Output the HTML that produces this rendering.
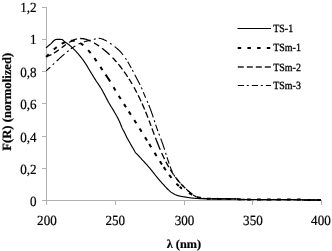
<!DOCTYPE html><html><head><meta charset="utf-8"><style>html,body{margin:0;padding:0;background:#fff;}body{filter:grayscale(1) blur(0.3px);}svg{display:block;}text{font-family:"Liberation Serif",serif;fill:#000;text-rendering:geometricPrecision;}.t{stroke:#000;stroke-width:0.2px;}.l{stroke:#000;stroke-width:0.3px;}</style></head><body>
<svg width="332" height="251" viewBox="0 0 332 251">
<rect width="332" height="251" fill="#fff"/>
<path d="M46.5 7 V200.5" stroke="#b0b0b0" stroke-width="1" fill="none"/>
<path d="M42 7.5 H46.5" stroke="#b0b0b0" stroke-width="1"/>
<path d="M42 39.5 H46.5" stroke="#b0b0b0" stroke-width="1"/>
<path d="M42 71.5 H46.5" stroke="#b0b0b0" stroke-width="1"/>
<path d="M42 103.5 H46.5" stroke="#b0b0b0" stroke-width="1"/>
<path d="M42 136.5 H46.5" stroke="#b0b0b0" stroke-width="1"/>
<path d="M42 168.5 H46.5" stroke="#b0b0b0" stroke-width="1"/>
<path d="M42 200.5 H46.5" stroke="#b0b0b0" stroke-width="1"/>
<path d="M42 200.5 H322" stroke="#b0b0b0" stroke-width="1"/>
<path d="M46.5 200 V205" stroke="#b0b0b0" stroke-width="1"/>
<path d="M115.5 200 V205" stroke="#b0b0b0" stroke-width="1"/>
<path d="M184.5 200 V205" stroke="#b0b0b0" stroke-width="1"/>
<path d="M252.5 200 V205" stroke="#b0b0b0" stroke-width="1"/>
<path d="M321.5 200 V205" stroke="#b0b0b0" stroke-width="1"/>
<text transform="translate(36.6 12.4) scale(0.935 1)" class="t" font-size="14" text-anchor="end">1,2</text>
<text transform="translate(36.6 44.4) scale(0.935 1)" class="t" font-size="14" text-anchor="end">1</text>
<text transform="translate(36.6 76.8) scale(0.935 1)" class="t" font-size="14" text-anchor="end">0,8</text>
<text transform="translate(36.6 108.8) scale(0.935 1)" class="t" font-size="14" text-anchor="end">0,6</text>
<text transform="translate(36.6 141.8) scale(0.935 1)" class="t" font-size="14" text-anchor="end">0,4</text>
<text transform="translate(36.6 173.8) scale(0.935 1)" class="t" font-size="14" text-anchor="end">0,2</text>
<text transform="translate(36.6 205.6) scale(0.935 1)" class="t" font-size="14" text-anchor="end">0</text>
<text transform="translate(46.9 224.8) scale(0.935 1)" class="t" font-size="14" text-anchor="middle">200</text>
<text transform="translate(115.3 224.8) scale(0.935 1)" class="t" font-size="14" text-anchor="middle">250</text>
<text transform="translate(184.6 224.8) scale(0.935 1)" class="t" font-size="14" text-anchor="middle">300</text>
<text transform="translate(252.9 224.8) scale(0.935 1)" class="t" font-size="14" text-anchor="middle">350</text>
<text transform="translate(320.9 224.8) scale(0.935 1)" class="t" font-size="14" text-anchor="middle">400</text>
<text x="183.9" y="247.7" font-size="12.25" font-weight="bold" class="t" text-anchor="middle">&#955; (nm)</text>
<text transform="translate(11.2 101.8) rotate(-90)" font-size="12.64" font-weight="bold" class="t" text-anchor="middle">F(R) (normolized)</text>
<path d="M46.00 47.90 L46.50 47.46 L47.00 47.02 L47.50 46.59 L48.00 46.15 L48.50 45.72 L49.00 45.29 L49.50 44.86 L50.00 44.44 L50.50 44.01 L51.00 43.56 L51.50 43.06 L52.00 42.54 L52.50 42.01 L53.00 41.49 L53.50 41.00 L54.00 40.55 L54.50 40.16 L55.00 39.85 L55.50 39.62 L56.00 39.50 L56.50 39.44 L57.00 39.39 L57.50 39.35 L58.00 39.32 L58.50 39.30 L59.00 39.30 L59.50 39.31 L60.00 39.33 L60.50 39.37 L61.00 39.41 L61.50 39.46 L62.00 39.54 L62.50 39.80 L63.00 40.20 L63.50 40.68 L64.00 41.17 L64.50 41.60 L65.00 41.96 L65.50 42.32 L66.00 42.66 L66.50 43.00 L67.00 43.34 L67.50 43.69 L68.00 44.04 L68.50 44.41 L69.00 44.80 L69.50 45.21 L70.00 45.63 L70.50 46.07 L71.00 46.52 L71.50 46.98 L72.00 47.45 L72.50 47.93 L73.00 48.41 L73.50 48.90 L74.00 49.39 L74.50 49.89 L75.00 50.40 L75.50 50.92 L76.00 51.44 L76.50 51.97 L77.00 52.52 L77.50 53.07 L78.00 53.63 L78.50 54.21 L79.00 54.80 L79.50 55.40 L80.00 56.02 L80.50 56.64 L81.00 57.28 L81.50 57.93 L82.00 58.59 L82.50 59.27 L83.00 59.95 L83.50 60.65 L84.00 61.36 L84.50 62.08 L85.00 62.81 L85.50 63.55 L86.00 64.31 L86.50 65.10 L87.00 65.92 L87.50 66.75 L88.00 67.60 L88.50 68.46 L89.00 69.31 L89.50 70.16 L90.00 71.00 L90.50 71.83 L91.00 72.65 L91.50 73.47 L92.00 74.29 L92.50 75.11 L93.00 75.92 L93.50 76.74 L94.00 77.54 L94.50 78.35 L95.00 79.14 L95.50 79.93 L96.00 80.70 L96.50 81.45 L97.00 82.20 L97.50 82.94 L98.00 83.67 L98.50 84.41 L99.00 85.15 L99.50 85.90 L100.00 86.67 L100.50 87.44 L101.00 88.24 L101.50 89.06 L102.00 89.90 L102.50 90.78 L103.00 91.70 L103.50 92.65 L104.00 93.62 L104.50 94.61 L105.00 95.59 L105.50 96.56 L106.00 97.51 L106.50 98.45 L107.00 99.39 L107.50 100.32 L108.00 101.25 L108.50 102.17 L109.00 103.07 L109.50 103.95 L110.00 104.81 L110.50 105.64 L111.00 106.45 L111.50 107.25 L112.00 108.05 L112.50 108.85 L113.00 109.67 L113.50 110.50 L114.00 111.34 L114.50 112.19 L115.00 113.05 L115.50 113.92 L116.00 114.80 L116.50 115.69 L117.00 116.57 L117.50 117.47 L118.00 118.40 L118.50 119.38 L119.00 120.43 L119.50 121.58 L120.00 122.79 L120.50 124.00 L121.00 125.21 L121.50 126.44 L122.00 127.63 L122.50 128.72 L123.00 129.73 L123.50 130.68 L124.00 131.63 L124.50 132.60 L125.00 133.62 L125.50 134.66 L126.00 135.70 L126.50 136.70 L127.00 137.67 L127.50 138.60 L128.00 139.51 L128.50 140.42 L129.00 141.32 L129.50 142.21 L130.00 143.09 L130.50 143.98 L131.00 144.86 L131.50 145.74 L132.00 146.61 L132.50 147.47 L133.00 148.31 L133.50 149.15 L134.00 150.00 L134.50 150.93 L135.00 151.84 L135.50 152.56 L136.00 153.11 L136.50 153.61 L137.00 154.09 L137.50 154.62 L138.00 155.16 L138.50 155.70 L139.00 156.25 L139.50 156.80 L140.00 157.36 L140.50 157.92 L141.00 158.49 L141.50 159.05 L142.00 159.60 L142.50 160.13 L143.00 160.65 L143.50 161.17 L144.00 161.70 L144.50 162.24 L145.00 162.78 L145.50 163.32 L146.00 163.86 L146.50 164.41 L147.00 164.97 L147.50 165.53 L148.00 166.10 L148.50 166.68 L149.00 167.26 L149.50 167.86 L150.00 168.46 L150.50 169.06 L151.00 169.67 L151.50 170.28 L152.00 170.90 L152.50 171.52 L153.00 172.16 L153.50 172.80 L154.00 173.45 L154.50 174.10 L155.00 174.74 L155.50 175.38 L156.00 176.00 L156.50 176.62 L157.00 177.23 L157.50 177.84 L158.00 178.44 L158.50 179.04 L159.00 179.64 L159.50 180.22 L160.00 180.80 L160.50 181.37 L161.00 181.93 L161.50 182.48 L162.00 183.03 L162.50 183.57 L163.00 184.11 L163.50 184.66 L164.00 185.20 L164.50 185.75 L165.00 186.31 L165.50 186.88 L166.00 187.43 L166.50 187.98 L167.00 188.50 L167.50 189.00 L168.00 189.48 L168.50 189.95 L169.00 190.42 L169.50 190.87 L170.00 191.31 L170.50 191.72 L171.00 192.11 L171.50 192.47 L172.00 192.79 L172.50 193.11 L173.00 193.41 L173.50 193.70 L174.00 193.97 L174.50 194.23 L175.00 194.48 L175.50 194.70 L176.00 194.91 L176.50 195.10 L177.00 195.27 L177.50 195.44 L178.00 195.59 L178.50 195.73 L179.00 195.87 L179.50 196.00 L180.00 196.12 L180.50 196.23 L181.00 196.34 L181.50 196.44 L182.00 196.53 L182.50 196.62 L183.00 196.70 L183.50 196.78 L184.00 196.85 L184.50 196.92 L185.00 197.00 L185.50 197.08 L186.00 197.16 L186.50 197.24 L187.00 197.32 L187.50 197.40 L188.00 197.48 L188.50 197.55 L189.00 197.63 L189.50 197.71 L190.00 197.78 L190.50 197.85 L191.00 197.91 L191.50 197.97 L192.00 198.03 L192.50 198.08 L193.00 198.13 L193.50 198.17 L194.00 198.22 L194.50 198.26 L195.00 198.30 L195.50 198.34 L196.00 198.38 L196.50 198.41 L197.00 198.45 L197.50 198.48 L198.00 198.51 L198.50 198.54 L199.00 198.56 L199.50 198.58 L200.00 198.60 L202.00 198.66 L204.00 198.72 L206.00 198.77 L208.00 198.81 L210.00 198.84 L212.00 198.87 L214.00 198.89 L216.00 198.91 L218.00 198.92 L220.00 198.93 L222.00 198.93 L224.00 198.94 L226.00 198.94 L228.00 198.95 L230.00 198.96 L232.00 198.97 L234.00 198.98 L236.00 199.00 L238.00 199.18 L240.00 199.45 L242.00 199.50 L244.00 199.51 L246.00 199.52 L248.00 199.53 L250.00 199.53 L252.00 199.53 L254.00 199.54 L256.00 199.54 L258.00 199.54 L260.00 199.55 L262.00 199.55 L264.00 199.55 L266.00 199.55 L268.00 199.55 L270.00 199.55 L272.00 199.55 L274.00 199.55 L276.00 199.55 L278.00 199.55 L280.00 199.55 L282.00 199.55 L284.00 199.56 L286.00 199.56 L288.00 199.56 L290.00 199.57 L292.00 199.57 L294.00 199.58 L296.00 199.58 L298.00 199.59 L300.00 199.60 L302.00 199.80 L304.00 200.00 L306.00 200.00 L308.00 200.00 L310.00 200.00 L312.00 200.00 L314.00 200.00 L316.00 200.00 L318.00 200.00 L320.00 200.00" stroke="#000" stroke-width="1.15" fill="none" stroke-linejoin="round"/>
<path d="M46.28 70.80 L46.78 70.34 L47.29 69.88 L47.80 69.42 L48.30 68.95 L48.80 68.49 L49.31 68.02 L49.81 67.55 L50.31 67.08 M56.64 61.13 L57.12 60.67 L57.61 60.22 L58.09 59.76 L58.58 59.31 L59.07 58.86 L59.56 58.41 L60.05 57.96 L60.54 57.51 L61.03 57.06 L61.53 56.62 L62.02 56.18 L62.52 55.73 L63.02 55.29 L63.51 54.85 L64.02 54.42 L64.52 53.98 M70.85 48.92 L71.39 48.52 L71.95 48.13 L72.50 47.74 L73.06 47.36 L73.62 46.98 L74.19 46.61 L74.76 46.25 L75.34 45.90 M83.86 41.93 L84.52 41.72 L85.17 41.51 L85.83 41.32 L86.48 41.13 L87.15 40.95 L87.81 40.77 L88.47 40.60 L89.13 40.43 L89.80 40.27 L90.47 40.11 M98.72 38.40 L99.39 38.42 L100.07 38.48 L100.74 38.58 L101.40 38.73 L102.05 38.91 L102.69 39.13 L103.32 39.37 L103.94 39.64 L104.56 39.92 L105.16 40.23 L105.75 40.55 L106.34 40.89 L106.92 41.23 M114.62 46.58 L115.18 47.00 L115.72 47.44 L116.26 47.88 L116.80 48.33 L117.33 48.79 L117.85 49.25 L118.36 49.73 L118.87 50.21 L119.37 50.70 L119.86 51.19 L120.34 51.70 L120.81 52.21 L121.28 52.73 L121.74 53.26 L122.19 53.80 L122.63 54.34 L123.06 54.89 M127.69 61.76 L128.03 62.32 L128.36 62.89 L128.69 63.45 L129.02 64.02 L129.35 64.59 L129.67 65.16 L130.00 65.73 L130.32 66.30 L130.63 66.88 L130.95 67.45 L131.26 68.03 M134.79 74.71 L135.11 75.31 L135.42 75.91 L135.73 76.51 L136.04 77.10 L136.35 77.70 L136.67 78.30 L136.98 78.90 L137.30 79.49 L137.61 80.09 L137.93 80.69 L138.25 81.28 L138.56 81.88 L138.88 82.47 L139.19 83.07 L139.50 83.67 L139.81 84.27 L140.11 84.88 M143.32 92.13 L143.57 92.75 L143.82 93.37 L144.07 93.98 L144.32 94.60 L144.57 95.21 L144.83 95.83 L145.09 96.44 L145.35 97.05 L145.61 97.67 M148.78 105.03 L149.04 105.67 L149.30 106.31 L149.56 106.96 L149.81 107.60 L150.07 108.25 L150.31 108.90 L150.56 109.55 L150.80 110.20 L151.03 110.85 L151.27 111.50 L151.50 112.15 L151.73 112.81 L151.95 113.47 L152.17 114.12 L152.40 114.78 L152.62 115.44 L152.83 116.10 L153.05 116.75 L153.27 117.41 M155.61 124.56 L155.83 125.22 L156.05 125.87 L156.27 126.53 L156.50 127.19 L156.72 127.84 L156.95 128.50 L157.19 129.15 L157.42 129.80 L157.66 130.46 L157.90 131.11 M160.69 138.48 L160.93 139.10 L161.16 139.72 L161.39 140.35 L161.63 140.97 L161.85 141.59 L162.08 142.22 L162.31 142.84 L162.53 143.47 L162.75 144.10 L162.97 144.72 L163.18 145.35 L163.39 145.98 L163.60 146.61 L163.81 147.24 L164.02 147.87 L164.23 148.51 L164.43 149.14 L164.64 149.77 M167.02 157.27 L167.23 157.91 L167.43 158.56 L167.64 159.20 L167.85 159.84 L168.06 160.48 L168.27 161.12 L168.48 161.77 L168.69 162.41 L168.91 163.05 L169.13 163.68 M52.70 64.83 L53.18 64.38 L53.67 63.92 L54.15 63.46 M67.09 51.83 L67.61 51.41 L68.13 50.99 L68.65 50.58 M78.56 44.11 L79.16 43.81 L79.77 43.53 L80.38 43.26 M93.80 39.32 L94.45 39.17 L95.10 39.01 L95.75 38.85 M110.00 43.25 L110.55 43.63 L111.09 44.01 L111.64 44.40 M125.40 58.14 L125.76 58.70 L126.13 59.26 L126.49 59.82 M132.35 70.06 L132.67 70.64 L132.98 71.23 L133.29 71.82 M141.31 87.37 L141.58 87.98 L141.85 88.59 L142.11 89.20 M147.05 100.98 L147.31 101.59 L147.58 102.20 L147.84 102.81 M154.20 120.26 L154.40 120.89 L154.61 121.53 L154.82 122.16 M158.83 133.58 L159.06 134.20 L159.30 134.83 L159.54 135.45 M165.62 152.85 L165.82 153.49 L166.02 154.12 L166.22 154.76 M170.13 166.51 L170.36 167.14 L170.59 167.76 L170.83 168.39 L171.07 169.01 L171.32 169.62 L171.58 170.24 L171.84 170.85 L172.10 171.47 L172.38 172.07 M173.74 174.75 L174.07 175.33 L174.41 175.90 L174.76 176.47 M176.50 178.91 L176.92 179.43 L177.35 179.94 L177.79 180.44 L178.23 180.93 L178.69 181.42 L179.15 181.90 L179.61 182.38 L180.08 182.86 L180.55 183.33 M182.65 185.48 L183.11 185.95 L183.58 186.43 L184.05 186.90 M186.18 189.02 L186.66 189.48 L187.14 189.94 L187.63 190.39 L188.13 190.84 L188.63 191.27 L189.13 191.71 L189.64 192.14 L190.15 192.57 L190.66 193.01 M193.02 194.85 L193.57 195.23 L194.13 195.59 L194.70 195.94 M197.43 197.18 L198.05 197.42 L198.67 197.65 L199.31 197.86 L199.95 198.05 L200.59 198.20 L201.25 198.32 L201.91 198.39 L202.58 198.43 L203.24 198.47 M206.24 198.61 L206.91 198.64 L207.57 198.66 L208.24 198.68 M211.24 198.75 L211.91 198.76 L212.57 198.77 L213.24 198.78 L213.91 198.79 L214.57 198.80 L215.24 198.80 L215.91 198.81 L216.57 198.81 L217.24 198.82 M220.24 198.83 L220.91 198.83 L221.57 198.83 L222.24 198.84 M225.24 198.84 L225.91 198.84 L226.57 198.85 L227.24 198.85 L227.91 198.85 L228.57 198.85 L229.24 198.85 L229.91 198.86 L230.57 198.86 L231.24 198.86 M234.24 198.88 L234.90 198.89 L235.57 198.90 L236.24 198.91 M239.21 199.33 L239.87 199.42 L240.53 199.48 L241.20 199.50 L241.86 199.50 L242.53 199.51 L243.20 199.51 L243.86 199.51 L244.53 199.51 L245.20 199.52 M248.20 199.53 L248.86 199.53 L249.53 199.53 L250.20 199.53 M253.20 199.54 L253.86 199.54 L254.53 199.54 L255.20 199.54 L255.86 199.54 L256.53 199.54 L257.20 199.54 L257.86 199.54 L258.53 199.54 L259.20 199.54 M262.20 199.55 L262.86 199.55 L263.53 199.55 L264.20 199.55 M267.20 199.55 L267.86 199.55 L268.53 199.55 L269.20 199.55 L269.86 199.55 L270.53 199.55 L271.20 199.55 L271.86 199.55 L272.53 199.55 L273.20 199.55 M276.20 199.55 L276.86 199.55 L277.53 199.55 L278.20 199.55 M281.20 199.55 L281.86 199.55 L282.53 199.56 L283.20 199.56 L283.86 199.56 L284.53 199.56 L285.20 199.56 L285.86 199.56 L286.53 199.56 L287.20 199.56 M290.20 199.57 L290.86 199.57 L291.53 199.57 L292.20 199.57 M295.20 199.58 L295.86 199.58 L296.53 199.59 L297.20 199.59 L297.86 199.59 L298.53 199.59 L299.20 199.60 L299.86 199.60 L300.53 199.62 L301.19 199.69 M304.17 200.00 L304.84 200.00 L305.51 200.00 L306.17 200.00 M309.17 200.00 L309.84 200.00 L310.51 200.00 L311.17 200.00 L311.84 200.00 L312.51 200.00 L313.17 200.00 L313.84 200.00 L314.51 200.00 L315.17 200.00 M318.17 200.00 L318.84 200.00 L319.51 200.00 L320.17 200.00" stroke="#000" stroke-width="1.1" fill="none"/>
<path d="M46.28 56.52 L46.94 56.35 L47.60 56.16 L48.26 55.94 L48.90 55.71 L49.54 55.45 L50.17 55.17 L50.79 54.88 L51.41 54.57 M53.93 53.14 L54.48 52.80 L55.02 52.45 L55.56 52.09 L56.10 51.73 L56.64 51.36 L57.17 50.99 L57.69 50.62 L58.22 50.24 L58.74 49.86 M61.72 47.65 L62.24 47.27 L62.76 46.88 L63.28 46.49 L63.80 46.11 L64.32 45.73 L64.84 45.35 L65.37 44.97 L65.89 44.59 M69.20 42.38 L69.76 42.04 L70.32 41.71 L70.89 41.38 L71.46 41.07 L72.05 40.76 L72.63 40.47 L73.23 40.20 L73.83 39.93 L74.44 39.69 L75.05 39.46 L75.68 39.25 L76.31 39.07 L76.94 38.91 M80.20 38.50 L80.88 38.50 L81.56 38.53 L82.23 38.58 L82.91 38.66 L83.58 38.76 L84.25 38.88 L84.91 39.02 L85.57 39.19 L86.22 39.37 L86.87 39.57 L87.52 39.79 L88.15 40.03 L88.79 40.28 L89.41 40.54 L90.03 40.81 L90.65 41.10 M94.09 42.92 L94.66 43.26 L95.23 43.61 L95.80 43.96 L96.36 44.31 L96.92 44.67 L97.48 45.03 L98.03 45.40 L98.58 45.78 L99.13 46.15 M102.06 48.29 L102.59 48.69 L103.11 49.09 L103.62 49.50 L104.14 49.92 L104.65 50.33 L105.15 50.75 L105.66 51.18 L106.16 51.61 L106.66 52.04 L107.15 52.47 L107.65 52.91 L108.13 53.35 L108.62 53.80 L109.10 54.25 L109.58 54.70 M112.52 57.61 L112.97 58.08 L113.42 58.55 L113.87 59.03 L114.32 59.51 L114.76 60.00 L115.20 60.48 L115.64 60.97 L116.07 61.46 L116.50 61.95 M118.38 64.17 L118.80 64.68 L119.22 65.20 L119.63 65.71 L120.05 66.23 L120.46 66.75 L120.86 67.27 L121.27 67.79 L121.67 68.32 L122.07 68.85 L122.46 69.38 M124.02 71.51 L124.39 72.04 L124.76 72.56 L125.13 73.09 L125.50 73.61 L125.86 74.14 L126.22 74.67 L126.58 75.20 L126.94 75.74 L127.29 76.27 L127.64 76.81 M128.93 78.80 L129.29 79.37 L129.65 79.95 L130.00 80.52 L130.36 81.10 L130.71 81.68 L131.06 82.26 L131.40 82.84 L131.75 83.42 L132.09 84.00 M133.97 87.30 L134.29 87.89 L134.61 88.48 L134.93 89.06 L135.25 89.65 L135.57 90.24 L135.88 90.83 L136.19 91.43 L136.50 92.02 L136.81 92.61 M138.19 95.33 L138.48 95.93 L138.78 96.53 L139.07 97.13 L139.36 97.73 L139.65 98.34 L139.94 98.94 L140.23 99.54 L140.51 100.15 L140.79 100.76 L141.07 101.36 M142.04 103.48 L142.31 104.08 L142.57 104.68 L142.84 105.28 L143.10 105.88 L143.36 106.48 L143.62 107.08 L143.88 107.69 L144.14 108.29 L144.40 108.90 L144.65 109.50 M145.61 111.82 L145.85 112.41 L146.09 113.00 L146.33 113.59 L146.56 114.18 L146.80 114.76 L147.03 115.35 L147.26 115.94 L147.49 116.53 L147.72 117.12 L147.95 117.72 M149.05 120.60 L149.27 121.18 L149.49 121.77 L149.71 122.35 L149.93 122.94 L150.15 123.52 L150.37 124.11 L150.59 124.69 L150.80 125.28 L151.02 125.87 M151.98 128.47 L152.22 129.10 L152.45 129.73 L152.68 130.36 L152.92 130.99 L153.15 131.62 L153.38 132.25 L153.62 132.88 L153.85 133.51 L154.09 134.14 L154.32 134.77 M155.42 137.69 L155.67 138.33 L155.91 138.97 L156.16 139.62 L156.40 140.26 L156.65 140.90 L156.90 141.54 L157.15 142.18 L157.40 142.82 L157.66 143.46 L157.91 144.10 L158.17 144.73 L158.43 145.37 L158.69 146.01 L158.95 146.64 L159.21 147.28 L159.48 147.91 L159.74 148.55 L160.01 149.18 L160.28 149.81 M161.66 152.95 L161.94 153.57 L162.22 154.19 L162.50 154.81 L162.79 155.43 L163.07 156.04 L163.36 156.66 L163.65 157.27 L163.95 157.89 L164.25 158.50 L164.54 159.11 M165.90 161.79 L166.20 162.38 L166.51 162.97 L166.83 163.56 L167.14 164.15 L167.46 164.73 L167.78 165.31 L168.11 165.90 L168.44 166.48 L168.77 167.06 M170.30 169.63 L170.65 170.20 L171.01 170.76 L171.36 171.33 L171.73 171.89 L172.09 172.45 L172.46 173.00 L172.83 173.55 L173.21 174.10 L173.59 174.65 M175.35 177.08 L175.75 177.61 L176.15 178.14 L176.56 178.67 L176.98 179.19 L177.39 179.71 L177.81 180.23 L178.24 180.74 L178.67 181.25 L179.10 181.76 M181.09 184.00 L181.55 184.49 L182.00 184.98 L182.46 185.46 L182.93 185.94 L183.39 186.41 L183.86 186.89 L184.34 187.36 L184.81 187.82 L185.29 188.29 M187.51 190.31 L188.01 190.75 L188.53 191.17 L189.04 191.59 L189.56 192.02 L190.07 192.44 L190.58 192.87 L191.09 193.30 L191.61 193.72 L192.13 194.14 M194.59 195.85 L195.17 196.18 L195.76 196.48 L196.37 196.75 L196.99 197.00 L197.61 197.25 L198.23 197.49 L198.86 197.71 L199.49 197.92 L200.14 198.10 M203.11 198.46 L203.77 198.50 L204.44 198.53 L205.10 198.56 L205.77 198.59 L206.44 198.62 L207.10 198.64 L207.77 198.66 L208.44 198.68 L209.10 198.70 M212.10 198.77 L212.77 198.77 L213.43 198.78 L214.10 198.79 L214.77 198.80 L215.43 198.80 L216.10 198.81 L216.77 198.81 L217.43 198.82 L218.10 198.82 M221.10 198.83 L221.77 198.83 L222.43 198.84 L223.10 198.84 L223.77 198.84 L224.43 198.84 L225.10 198.84 L225.77 198.84 L226.43 198.85 L227.10 198.85 M230.10 198.86 L230.77 198.86 L231.43 198.86 L232.10 198.87 L232.77 198.87 L233.43 198.88 L234.10 198.88 L234.77 198.89 L235.43 198.89 L236.10 198.90 M239.07 199.30 L239.73 199.40 L240.39 199.47 L241.06 199.50 L241.73 199.50 L242.39 199.51 L243.06 199.51 L243.73 199.51 L244.39 199.51 L245.06 199.52 M248.06 199.53 L248.73 199.53 L249.39 199.53 L250.06 199.53 L250.73 199.53 L251.39 199.53 L252.06 199.54 L252.73 199.54 L253.39 199.54 L254.06 199.54 M257.06 199.54 L257.73 199.54 L258.39 199.54 L259.06 199.54 L259.73 199.55 L260.39 199.55 L261.06 199.55 L261.73 199.55 L262.39 199.55 L263.06 199.55 M266.06 199.55 L266.73 199.55 L267.39 199.55 L268.06 199.55 L268.73 199.55 L269.39 199.55 L270.06 199.55 L270.73 199.55 L271.39 199.55 L272.06 199.55 M275.06 199.55 L275.73 199.55 L276.39 199.55 L277.06 199.55 L277.73 199.55 L278.39 199.55 L279.06 199.55 L279.73 199.55 L280.39 199.55 L281.06 199.55 M284.06 199.56 L284.73 199.56 L285.39 199.56 L286.06 199.56 L286.73 199.56 L287.39 199.56 L288.06 199.56 L288.73 199.56 L289.39 199.57 L290.06 199.57 M293.06 199.57 L293.73 199.58 L294.39 199.58 L295.06 199.58 L295.73 199.58 L296.39 199.59 L297.06 199.59 L297.73 199.59 L298.39 199.59 L299.06 199.60 M302.05 199.81 L302.71 199.90 L303.37 199.97 L304.04 200.00 L304.70 200.00 L305.37 200.00 L306.04 200.00 L306.70 200.00 L307.37 200.00 L308.04 200.00 M311.04 200.00 L311.70 200.00 L312.37 200.00 L313.04 200.00 L313.70 200.00 L314.37 200.00 L315.04 200.00 L315.70 200.00 L316.37 200.00 L317.04 200.00 M320.04 200.00 L320.52 200.00 L321.00 200.00" stroke="#000" stroke-width="1.3" fill="none"/>
<path d="M46.10 57.00 L46.54 56.54 L46.98 56.08 L47.42 55.63 L47.86 55.17 L48.31 54.72 L48.75 54.27 M53.81 49.53 L54.29 49.12 L54.77 48.71 L55.26 48.31 L55.75 47.91 L56.25 47.52 L56.75 47.13 M61.78 43.76 L62.34 43.46 L62.90 43.17 L63.47 42.88 L64.04 42.62 L64.62 42.36 L65.21 42.12 M70.87 40.78 L71.50 40.74 L72.14 40.74 L72.77 40.76 L73.40 40.80 L74.03 40.87 L74.66 40.97 M80.16 43.05 L80.70 43.38 L81.24 43.72 L81.76 44.08 L82.27 44.46 L82.77 44.85 L83.26 45.24 M88.18 50.15 L88.60 50.63 L89.01 51.11 L89.41 51.60 L89.81 52.09 L90.21 52.58 L90.61 53.08 M94.37 58.11 L94.73 58.62 L95.10 59.14 L95.46 59.66 L95.82 60.18 L96.19 60.70 L96.55 61.22 M100.37 66.87 L100.72 67.40 L101.07 67.92 L101.42 68.45 L101.77 68.98 L102.13 69.50 L102.48 70.03 M105.55 74.57 L105.95 75.15 L106.34 75.72 L106.74 76.30 L107.13 76.87 L107.53 77.45 L107.92 78.03 L108.31 78.61 L108.70 79.19 L109.08 79.77 L109.46 80.36 L109.84 80.94 L110.21 81.54 M113.53 87.22 L113.85 87.77 L114.17 88.32 L114.49 88.87 L114.81 89.41 L115.13 89.96 L115.45 90.50 M118.75 95.87 L119.08 96.41 L119.42 96.94 L119.76 97.48 L120.10 98.01 L120.44 98.55 L120.78 99.08 M124.00 104.11 L124.34 104.64 L124.69 105.17 L125.03 105.70 L125.37 106.24 L125.72 106.77 L126.06 107.30 M128.81 111.55 L129.16 112.09 L129.50 112.62 L129.84 113.15 L130.19 113.68 L130.53 114.22 L130.87 114.75 M134.28 120.10 L134.62 120.63 L134.96 121.17 L135.30 121.70 L135.64 122.24 L135.98 122.77 L136.31 123.31 M139.56 128.47 L139.90 129.01 L140.23 129.55 L140.57 130.09 L140.91 130.62 L141.24 131.16 L141.58 131.70 M145.07 137.32 L145.40 137.86 L145.74 138.40 L146.07 138.94 L146.40 139.48 L146.74 140.02 L147.07 140.55 M149.20 144.01 L149.53 144.55 L149.86 145.09 L150.20 145.63 L150.53 146.17 L150.86 146.71 L151.19 147.25 M154.61 152.80 L154.94 153.34 L155.27 153.88 L155.61 154.42 L155.94 154.95 L156.27 155.49 L156.61 156.03 M159.94 161.32 L160.28 161.86 L160.63 162.39 L160.97 162.92 L161.31 163.46 L161.66 163.99 L162.00 164.52 M163.71 167.11 L164.07 167.64 L164.42 168.16 L164.77 168.69 L165.13 169.21 L165.49 169.74 L165.85 170.26 M169.18 174.93 L169.56 175.44 L169.94 175.95 L170.32 176.45 L170.71 176.95 L171.09 177.45 L171.49 177.95 M176.41 183.64 L176.88 184.12 L177.36 184.60 L177.84 185.06 L178.33 185.53 L178.82 185.98 M179.60 186.67 L180.07 187.08 L180.55 187.48 L181.03 187.87 L181.51 188.26 L182.01 188.64 M188.94 193.00 L189.50 193.29 L190.06 193.58 L190.63 193.87 L191.19 194.16 L191.75 194.45 L192.31 194.74 M197.18 197.01 L197.79 197.20 L198.40 197.36 L199.02 197.50 L199.64 197.63 L200.26 197.75 L200.88 197.87 M207.03 198.60 L207.67 198.63 L208.30 198.65 L208.93 198.67 L209.56 198.70 L210.20 198.72 L210.83 198.73 M217.03 198.86 L217.66 198.87 L218.30 198.88 L218.93 198.89 L219.56 198.90 L220.20 198.90 L220.83 198.91 M227.03 198.94 L227.66 198.94 L228.30 198.94 L228.93 198.95 L229.56 198.95 L230.20 198.95 L230.83 198.95 M237.03 199.06 L237.66 199.14 L238.28 199.22 L238.91 199.31 L239.54 199.40 L240.17 199.46 L240.80 199.50 M247.00 199.52 L247.63 199.52 L248.27 199.53 L248.90 199.53 L249.53 199.53 L250.17 199.53 L250.80 199.53 M257.00 199.54 L257.63 199.54 L258.27 199.54 L258.90 199.54 L259.53 199.54 L260.17 199.55 L260.80 199.55 M267.00 199.55 L267.63 199.55 L268.27 199.55 L268.90 199.55 L269.53 199.55 L270.17 199.55 L270.80 199.55 M277.00 199.55 L277.63 199.55 L278.27 199.55 L278.90 199.55 L279.53 199.55 L280.17 199.55 L280.80 199.55 M287.00 199.56 L287.63 199.56 L288.27 199.56 L288.90 199.56 L289.53 199.57 L290.17 199.57 L290.80 199.57 M297.00 199.59 L297.63 199.59 L298.27 199.59 L298.90 199.60 L299.53 199.60 L300.17 199.60 L300.80 199.64 M306.98 200.00 L307.61 200.00 L308.24 200.00 L308.88 200.00 L309.51 200.00 L310.14 200.00 L310.78 200.00 M316.98 200.00 L317.61 200.00 L318.24 200.00 L318.88 200.00 L319.51 200.00 L320.14 200.00 L320.78 200.00" stroke="#000" stroke-width="2.0" fill="none"/>
<path d="M237.5 28.5 H271" stroke="#000" stroke-width="1.1"/>
<path d="M237.7 48 H271" stroke="#000" stroke-width="2" stroke-dasharray="3.5 6.2"/>
<path d="M237.8 67 H271" stroke="#555" stroke-width="2" stroke-dasharray="6 3"/>
<path d="M237.8 85.5 H271" stroke="#000" stroke-width="1.2" stroke-dasharray="6.2 2.8 2.0 3.0"/>
<text transform="translate(273.2 31.8) scale(0.905 1)" class="l" font-size="11">TS-1</text>
<text transform="translate(273.2 50.8) scale(0.905 1)" class="l" font-size="11">TSm-1</text>
<text transform="translate(273.2 70.8) scale(0.905 1)" class="l" font-size="11">TSm-2</text>
<text transform="translate(273.2 88.9) scale(0.905 1)" class="l" font-size="11">TSm-3</text>
</svg></body></html>
